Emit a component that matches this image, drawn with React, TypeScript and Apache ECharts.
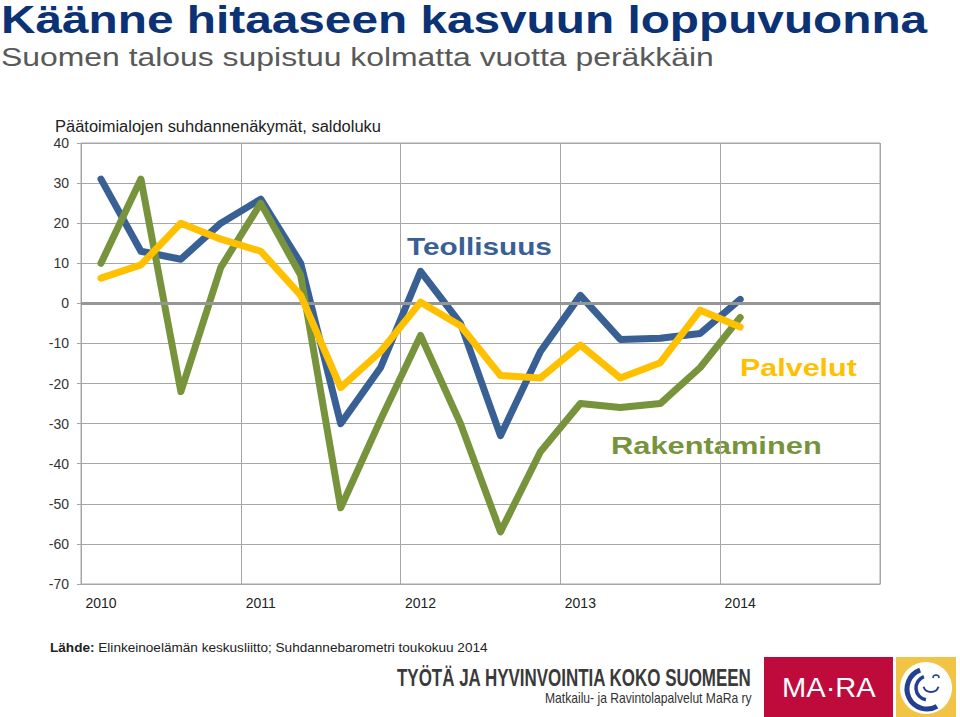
import React, { useEffect, useRef } from "react";
import * as echarts from "echarts";

const quarters = [
  "2010 Q1", "2010 Q2", "2010 Q3", "2010 Q4",
  "2011 Q1", "2011 Q2", "2011 Q3", "2011 Q4",
  "2012 Q1", "2012 Q2", "2012 Q3", "2012 Q4",
  "2013 Q1", "2013 Q2", "2013 Q3", "2013 Q4",
  "2014 Q1", "2014 Q2", "2014 Q3", "2014 Q4",
];

const teollisuus = [31, 13, 11, 20, 26, 10, -30, -16, 8, -5, -33, -12, 2, -9, -8.7, -7.5, 1];
const rakentaminen = [10, 31, -22, 9, 25, 7, -51, -29, -8, -30, -57, -37, -25, -26, -25, -16, -3.5];
const palvelut = [6.3, 9.6, 20, 16, 13, 2, -21, -12, 0.3, -5.6, -18, -18.6, -10.4, -18.6, -14.8, -1.7, -5.9];

const yMin = -70;
const yMax = 40;
const yStep = 10;

const title = "Käänne hitaaseen kasvuun loppuvuonna";
const subtitle = "Suomen talous supistuu kolmatta vuotta peräkkäin";
const yTitle = "Päätoimialojen suhdannenäkymät, saldoluku";
const sourceText = "{b|Lähde:} Elinkeinoelämän keskusliitto; Suhdannebarometri toukokuu 2014";
const footerMain = "TYÖTÄ JA HYVINVOINTIA KOKO SUOMEEN";
const footerSub = "Matkailu- ja Ravintolapalvelut MaRa ry";

const BLUE = "#386094";
const GREEN = "#77933C";
const YELLOW = "#FFC000";
const GRID = "#a6a6a6";
const FONT = "'Liberation Sans', Arial, sans-serif";

function txt(x: number, y: number, text: string, size: number, fill: string, opts: any = {}) {
  const { scaleX = 1, weight = "normal", align = "left", rich } = opts;
  return {
    type: "text",
    x,
    y,
    scaleX,
    silent: true,
    style: {
      text,
      fontSize: size,
      fontWeight: weight,
      fontFamily: FONT,
      fill,
      textAlign: align,
      textVerticalAlign: "middle",
      rich,
    },
  };
}

export default function App() {
  const ref = useRef<HTMLDivElement>(null);
  useEffect(() => {
    if (!ref.current) return;
    const chart = echarts.init(ref.current, undefined, { renderer: "svg" });
    const lineSeries = (name: string, data: number[], color: string, z: number) => ({
      name,
      type: "line",
      data,
      z,
      symbol: "none",
      lineStyle: { color, width: 7, cap: "round", join: "round" },
      itemStyle: { color },
    });
    chart.setOption({
      animation: false,
      backgroundColor: "#ffffff",
      grid: {
        left: 81,
        right: 80,
        top: 143,
        bottom: 133,
        show: true,
        borderColor: GRID,
        borderWidth: 1,
        backgroundColor: "transparent",
      },
      xAxis: {
        type: "category",
        data: quarters,
        boundaryGap: true,
        axisLine: { show: true, onZero: false, lineStyle: { color: GRID, width: 1 } },
        axisTick: { show: false, interval: 3 },
        axisLabel: {
          interval: 3,
          formatter: (v: string) => v.slice(0, 4),
          fontSize: 14,
          color: "#222",
          fontFamily: FONT,
          margin: 12,
        },
        splitLine: { show: true, interval: 3, lineStyle: { color: GRID, width: 1 } },
      },
      yAxis: {
        type: "value",
        min: yMin,
        max: yMax,
        interval: yStep,
        axisLine: { show: false },
        axisTick: { show: true, length: 4, lineStyle: { color: GRID } },
        axisLabel: { fontSize: 14, color: "#333", fontFamily: FONT, margin: 12 },
        splitLine: { show: true, lineStyle: { color: GRID, width: 1 } },
      },
      series: [
        {
          type: "line",
          data: [],
          z: 1,
          silent: true,
          markLine: {
            silent: true,
            symbol: ["none", "none"],
            label: { show: false },
            lineStyle: { color: "#969696", width: 3, type: "solid" },
            data: [{ yAxis: 0 }],
          },
        },
        lineSeries("Teollisuus", teollisuus, BLUE, 3),
        lineSeries("Rakentaminen", rakentaminen, GREEN, 4),
        lineSeries("Palvelut", palvelut, YELLOW, 5),
      ],
      graphic: [
        txt(1, 20, title, 39, "#0B3275", { weight: "bold", scaleX: 1.225 }),
        txt(1, 57, subtitle, 26, "#595959", { scaleX: 1.227 }),
        txt(55, 126, yTitle, 16, "#222", { scaleX: 1.03 }),
        txt(407, 247, "Teollisuus", 24, BLUE, { weight: "bold", scaleX: 1.24 }),
        txt(740, 368, "Palvelut", 24, YELLOW, { weight: "bold", scaleX: 1.27 }),
        txt(611, 446, "Rakentaminen", 24, GREEN, { weight: "bold", scaleX: 1.285 }),
        txt(50, 648, sourceText, 13, "#222", {
          scaleX: 1.045,
          rich: { b: { fontWeight: "bold", fontSize: 13, fontFamily: FONT, fill: "#222" } },
        }),
        txt(397, 677, footerMain, 24, "#3a3a3a", { weight: "bold", scaleX: 0.707 }),
        txt(545, 698, footerSub, 14, "#333", { scaleX: 0.866 }),
        {
          type: "rect",
          silent: true,
          shape: { x: 764, y: 657, width: 129, height: 60 },
          style: { fill: "#BE0B3C" },
        },
        txt(782, 687, "MA·RA", 28, "#ffffff", { scaleX: 1.04 }),
        {
          type: "rect",
          silent: true,
          shape: { x: 896, y: 657, width: 60, height: 60 },
          style: { fill: "#F2C446" },
        },
        {
          type: "circle",
          silent: true,
          shape: { cx: 926, cy: 688, r: 26 },
          style: { fill: "#ffffff" },
        },
        {
          type: "arc",
          silent: true,
          shape: { cx: 927, cy: 689, r: 20, startAngle: Math.PI / 3, endAngle: (250 * Math.PI) / 180, clockwise: true },
          style: { stroke: "#23408E", lineWidth: 5, fill: "none" },
        },
        {
          type: "arc",
          silent: true,
          shape: { cx: 928, cy: 688, r: 12, startAngle: (100 * Math.PI) / 180, endAngle: (250 * Math.PI) / 180, clockwise: true },
          style: { stroke: "#23408E", lineWidth: 3.5, fill: "none" },
        },
        {
          type: "arc",
          silent: true,
          shape: { cx: 931, cy: 684, r: 8, startAngle: (20 * Math.PI) / 180, endAngle: (160 * Math.PI) / 180, clockwise: true },
          style: { stroke: "#23408E", lineWidth: 2, fill: "none" },
        },
        {
          type: "arc",
          silent: true,
          shape: { cx: 936, cy: 678, r: 3, startAngle: Math.PI, endAngle: 2 * Math.PI, clockwise: true },
          style: { stroke: "#23408E", lineWidth: 1.5, fill: "none" },
        },
      ],
    });
    return () => chart.dispose();
  }, []);
  return (
    <div
      ref={ref}
      style={{ position: "fixed", left: 0, top: 0, width: 960, height: 717, background: "#fff" }}
    />
  );
}
